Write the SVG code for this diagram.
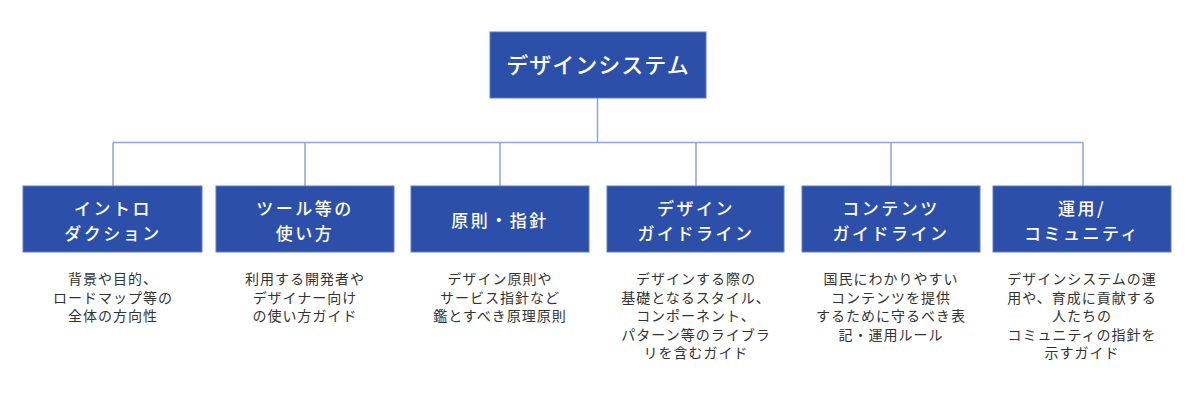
<svg xmlns="http://www.w3.org/2000/svg" width="1200" height="407" viewBox="0 0 1200 407">
<style>
.box{fill:#2c4fa9;stroke:#5f7dc6;stroke-width:1}
.t{font-family:"Noto Sans CJK JP","Noto Sans",sans-serif;fill:#ffffff;text-anchor:middle;font-weight:500}
.title{font-size:22px;letter-spacing:1px}
.lbl{font-size:17px;letter-spacing:2.5px}
.d{font-family:"Noto Sans CJK JP","Noto Sans",sans-serif;fill:#333333;text-anchor:middle;font-size:14px;letter-spacing:1px}
.c{fill:none;stroke:#8fa4da;stroke-width:1.5}
</style>
<rect width="1200" height="407" fill="#ffffff"/>
<g id="connectors">
<path class="c" d="M597.5 98 V142.5 M113 142.5 H1083 M113 142.5 V186 M305 142.5 V186 M500 142.5 V186 M696 142.5 V186 M891 142.5 V186 M1083 142.5 V186"/>
</g>
<g id="root">
<rect class="box" x="490" y="32" width="216" height="66"/>
<text class="t title" x="598" y="73">デザインシステム</text>
</g>
<g id="intro">
<rect class="box" x="23" y="186" width="179" height="66"/>
<text class="t lbl" x="113" y="214.5">イントロ</text>
<text class="t lbl" x="113" y="239.5">ダクション</text>
<text class="d"><tspan x="113" y="284">背景や目的、</tspan><tspan x="113" y="302.5">ロードマップ等の</tspan><tspan x="113" y="321">全体の方向性</tspan></text>
</g>
<g id="tools">
<rect class="box" x="216" y="186" width="178" height="66"/>
<text class="t lbl" x="305" y="214.5">ツール等の</text>
<text class="t lbl" x="305" y="239.5">使い方</text>
<text class="d"><tspan x="305" y="284">利用する開発者や</tspan><tspan x="305" y="302.5">デザイナー向け</tspan><tspan x="305" y="321">の使い方ガイド</tspan></text>
</g>
<g id="principles">
<rect class="box" x="411" y="186" width="178" height="66"/>
<text class="t lbl" x="500" y="226.5">原則・指針</text>
<text class="d"><tspan x="500" y="284">デザイン原則や</tspan><tspan x="500" y="302.5">サービス指針など</tspan><tspan x="500" y="321">鑑とすべき原理原則</tspan></text>
</g>
<g id="design-guide">
<rect class="box" x="607" y="186" width="177" height="66"/>
<text class="t lbl" x="696" y="214.5">デザイン</text>
<text class="t lbl" x="696" y="239.5">ガイドライン</text>
<text class="d"><tspan x="696" y="284">デザインする際の</tspan><tspan x="696" y="302.5">基礎となるスタイル、</tspan><tspan x="696" y="321">コンポーネント、</tspan><tspan x="696" y="339.5">パターン等のライブラ</tspan><tspan x="696" y="358">リを含むガイド</tspan></text>
</g>
<g id="content-guide">
<rect class="box" x="802" y="186" width="178" height="66"/>
<text class="t lbl" x="891" y="214.5">コンテンツ</text>
<text class="t lbl" x="891" y="239.5">ガイドライン</text>
<text class="d"><tspan x="891" y="284">国民にわかりやすい</tspan><tspan x="891" y="302.5">コンテンツを提供</tspan><tspan x="891" y="321">するために守るべき表</tspan><tspan x="891" y="339.5">記・運用ルール</tspan></text>
</g>
<g id="community">
<rect class="box" x="993" y="186" width="178" height="66"/>
<text class="t lbl" x="1082" y="214.5">運用/</text>
<text class="t lbl" x="1082" y="239.5">コミュニティ</text>
<text class="d"><tspan x="1082" y="284">デザインシステムの運</tspan><tspan x="1082" y="302.5">用や、育成に貢献する</tspan><tspan x="1082" y="321">人たちの</tspan><tspan x="1082" y="339.5">コミュニティの指針を</tspan><tspan x="1082" y="358">示すガイド</tspan></text>
</g>
</svg>
